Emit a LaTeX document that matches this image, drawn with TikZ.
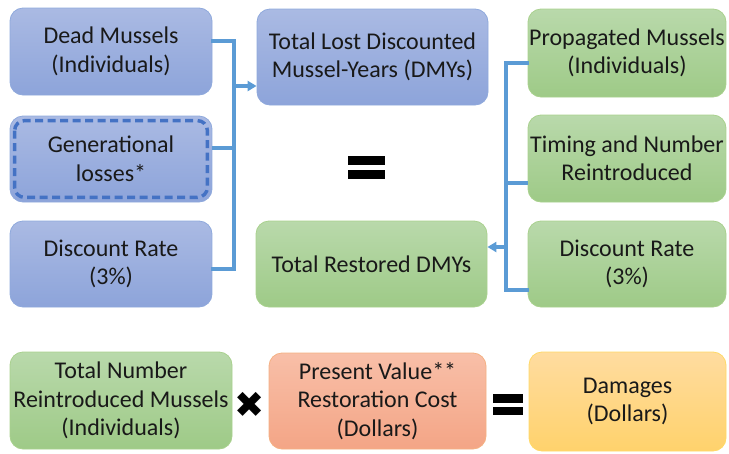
\documentclass[tikz,border=0pt]{standalone}
\usepackage{fontspec}
\setmainfont{Carlito}
\newfontfamily\symfont{DejaVu Sans}
\usetikzlibrary{arrows.meta}
\definecolor{bluetop}{HTML}{AABAE3}
\definecolor{bluebot}{HTML}{8DA4DA}
\definecolor{blueedge}{HTML}{8FA9DC}
\definecolor{bluedash}{HTML}{4472C4}
\definecolor{greentop}{HTML}{B9D9AB}
\definecolor{greenbot}{HTML}{9ECA87}
\definecolor{greenedge}{HTML}{A9D18E}
\definecolor{orangetop}{HTML}{F8BFA8}
\definecolor{orangebot}{HTML}{F4A586}
\definecolor{orangeedge}{HTML}{F4B183}
\definecolor{yellowtop}{HTML}{FFDCA0}
\definecolor{yellowbot}{HTML}{FFD26C}
\definecolor{yellowedge}{HTML}{FFD966}
\definecolor{linkblue}{HTML}{5B9BD5}
\tikzset{
  box/.style={rounded corners=13pt, align=center, inner sep=0pt, line width=0.8pt,
    font=\fontsize{24}{28.5}\selectfont, text=black!90},
  bluebox/.style={box, draw=blueedge, top color=bluetop, bottom color=bluebot},
  greenbox/.style={box, draw=greenedge, top color=greentop, bottom color=greenbot},
  orangebox/.style={box, draw=orangeedge, top color=orangetop, bottom color=orangebot},
  yellowbox/.style={box, draw=yellowedge, top color=yellowtop, bottom color=yellowbot},
  link/.style={draw=linkblue, line width=3.2pt},
  linkarrow/.style={link, -{Triangle[length=9pt,width=10pt]}},
}
\begin{document}
\begin{tikzpicture}[x=1pt,y=-1pt]
\useasboundingbox (0,0) rectangle (729,453);
% left column
\node[bluebox, minimum width=202pt, minimum height=87pt] (L1) at (111,51.5) {Dead Mussels\\(Individuals)};
\node[bluebox, minimum width=202pt, minimum height=86pt] (L2) at (111,159) {Generational\\losses*};
\draw[bluedash, line width=3.4pt, dash pattern=on 8pt off 4.5pt, rounded corners=10pt]
  ([xshift=5pt,yshift=-5pt]L2.north west) rectangle ([xshift=-5pt,yshift=5pt]L2.south east);
\node[bluebox, minimum width=202pt, minimum height=86pt] (L3) at (111,264) {Discount Rate\\(3\%)};
% center
\node[bluebox, minimum width=231pt, minimum height=96pt] (C1) at (372.5,57) {Total Lost Discounted\\Mussel-Years (DMYs)};
\node[greenbox, minimum width=231pt, minimum height=86pt] (C2) at (371.5,264) {Total Restored DMYs};
% right column
\node[greenbox, minimum width=198pt, minimum height=88pt] (R1) at (627,53) {Propagated Mussels\\(Individuals)};
\node[greenbox, minimum width=198pt, minimum height=87pt] (R2) at (627,158.5) {Timing and Number\\Reintroduced};
\node[greenbox, minimum width=198pt, minimum height=86pt] (R3) at (627,264) {Discount Rate\\(3\%)};
% bottom row
\node[greenbox, minimum width=222pt, minimum height=97pt] (B1) at (121,400.5) {Total Number\\Reintroduced Mussels\\(Individuals)};
\node[orangebox, minimum width=217pt, minimum height=96pt] (B2) at (377.5,401) {Present Value**\\Restoration Cost\\(Dollars)};
\node[yellowbox, minimum width=197pt, minimum height=99pt] (B3) at (627.5,401.5) {Damages\\(Dollars)};
% operators
\fill[black] (348,156) rectangle (385,164.5);
\fill[black] (348,170) rectangle (385,179);
\node[font=\symfont\fontsize{36}{36}\selectfont, inner sep=0pt] (times) at (250,405) {✖};
\fill[black] (493,394) rectangle (523,403);
\fill[black] (493,407) rectangle (523,415);
% left connectors
\coordinate (jl) at (234,86);
\draw[link, line cap=rect] ([yshift=10.5pt]L1.east) -- ([yshift=10.5pt]L1.east -| jl) |- ([yshift=-5pt]L3.east);
\draw[link] ([yshift=11pt]L2.east) -- ([yshift=11pt]L2.east -| jl);
\draw[linkarrow] (jl) -- (jl -| C1.west);
% right connectors
\coordinate (jr) at (506,247);
\draw[link, line cap=rect] ([yshift=-10pt]R1.west) -- ([yshift=-10pt]R1.west -| jr) |- ([yshift=-26pt]R3.west);
\draw[link] ([yshift=-24.5pt]R2.west) -- ([yshift=-24.5pt]R2.west -| jr);
\draw[linkarrow] (jr) -- (jr -| C2.east);
\end{tikzpicture}
\end{document}
